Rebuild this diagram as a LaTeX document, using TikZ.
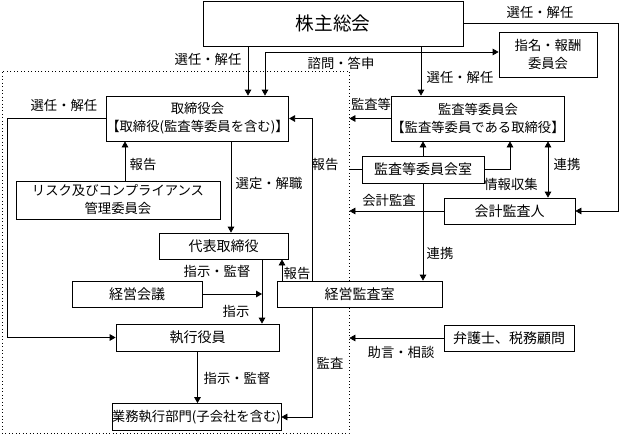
\documentclass[tikz,border=0pt]{standalone}
\usepackage{fontspec}
\setmainfont{Noto Sans CJK JP}
\usetikzlibrary{arrows.meta}

\begin{document}
\begin{tikzpicture}[x=0.75pt,y=0.75pt,yscale=-1,xscale=1,
  box/.style={draw, fill=white, line width=0.6pt, inner sep=0pt, align=center, font=\fontsize{10.5}{13.5}\selectfont},
  lbl/.style={inner sep=0pt, font=\fontsize{10}{12}\selectfont},
  arr/.style={line width=0.6pt, -{Triangle[length=4.5pt,width=5pt]}},
  arrb/.style={line width=0.6pt, {Triangle[length=4.5pt,width=5pt]}-{Triangle[length=4.5pt,width=5pt]}},
  ln/.style={line width=0.6pt}]
\useasboundingbox (0,0) rectangle (622,436);

%Shape: dotted frame
\node [draw, dotted, line width=0.6pt, minimum width=260.25pt, minimum height=271.5pt, inner sep=0pt] (frame) at (175.5,252) {};

%Shape: Boxes
\node [box, minimum width=195pt, minimum height=33.75pt, font=\fontsize{14}{16}\selectfont] (soukai) at (333,23.5) {株主総会};
\node [box, minimum width=73.5pt, minimum height=33.75pt, font=\fontsize{10}{13.5}\selectfont] (shimei) at (548,54.5) {指名・報酬\\委員会};
\node [box, minimum width=126.75pt, minimum height=33.75pt, font=\fontsize{10}{13.5}\selectfont] (board) at (197.5,118.5) {取締役会\\【取締役(監査等委員を含む)】};
\node [box, minimum width=127.5pt, minimum height=33.75pt, font=\fontsize{10}{13.5}\selectfont] (auditcom) at (478,118.5) {監査等委員会\\【監査等委員である取締役】};
\node [box, minimum width=91.5pt, minimum height=20.25pt] (auditoffice) at (423,169.5) {監査等委員会室};
\node [box, minimum width=153pt, minimum height=28.5pt, font=\fontsize{10}{13.5}\selectfont] (risk) at (118,200) {リスク及びコンプライアンス\\管理委員会};
\node [box, minimum width=98.25pt, minimum height=19.5pt] (accountant) at (509.5,211) {会計監査人};
\node [box, minimum width=96.75pt, minimum height=19.5pt] (daihyo) at (223.5,246) {代表取締役};
\node [box, minimum width=97.5pt, minimum height=19.5pt] (keiei) at (137,294) {経営会議};
\node [box, minimum width=123.75pt, minimum height=19.5pt] (kansa) at (359.5,294) {経営監査室};
\node [box, minimum width=122.25pt, minimum height=20.25pt] (shikko) at (197.5,337.5) {執行役員};
\node [box, minimum width=120.75pt, minimum height=20.25pt, font=\fontsize{10}{12}\selectfont] (gyomu) at (196.5,417) {業務執行部門(子会社を含む)};
\node [box, minimum width=97.5pt, minimum height=19.5pt] (bengoshi) at (509,338) {弁護士、税務顧問};

%Straight Lines: connectors
\draw [ln] (frame.east |- auditoffice.west) -- (auditoffice.west);
\draw [arr] (248,0 |- soukai.south) -- (248,0 |- board.north);
\draw [arrb] (shimei.west |- 0,52) -| (265,0 |- board.north);
\draw [arr] (421,0 |- soukai.south) -- (421,0 |- auditcom.north);
\draw [arr] (soukai.east) -| (618,0 |- accountant.east) -- (accountant.east);
\draw [arr] (board.west) -| (7,0 |- shikko.west) -- (shikko.west);
\draw [arr] (auditcom.west) -- (frame.east |- auditcom.west);
\draw [arr] (125,0 |- risk.north) -- (125,0 |- board.south);
\draw [arr] (231,0 |- board.south) -- (231,0 |- daihyo.north);
\draw [arr] (312,0 |- kansa.north) |- (board.east);
\draw [arr] (312,0 |- kansa.south) |- (gyomu.east);
\draw [arr] (auditoffice.north) -- (auditoffice.north |- auditcom.south);
\draw [arr] (auditoffice.south) -- (auditoffice.south |- kansa.north);
\draw [arr] (auditoffice.east) -| (510,0 |- auditcom.south);
\draw [arrb] (548,0 |- auditcom.south) -- (548,0 |- accountant.north);
\draw [arr] (accountant.west) -- (frame.east |- accountant.west);
\draw [arr] (262,0 |- daihyo.south) -- (262,0 |- shikko.north);
\draw [arr] (keiei.east) -- (262,0 |- keiei.east);
\draw [arr] (282,0 |- kansa.north) -- (282,0 |- daihyo.south);
\draw [arr] (shikko.south) -- (shikko.south |- gyomu.north);
\draw [arr] (bengoshi.west) -- (frame.east |- bengoshi.west);

% Text Node
\node [lbl] (lelect1) at (208,59) {選任・解任};
\node [lbl] (lconsult) at (341,63) {諮問・答申};
\node [lbl] (lelect2) at (460,77) {選任・解任};
\node [lbl] (lelect3) at (540,12) {選任・解任};
\node [lbl] (lelect4) at (64,105) {選任・解任};
\node [lbl] (laudit1) at (371,104) {監査等};
\node [lbl] (lreport1) at (143,164) {報告};
\node [lbl] (lselect) at (269,183) {選定・解職};
\node [lbl] (lreport2) at (325,164) {報告};
\node [lbl] (linfo) at (511,184) {情報収集};
\node [lbl] (llink1) at (567,164) {連携};
\node [lbl] (laccount) at (389,200) {会計監査};
\node [lbl] (llink2) at (440,253) {連携};
\node [lbl] (lorder1) at (217,271) {指示・監督};
\node [lbl] (lreport3) at (297,273) {報告};
\node [lbl] (lorder2) at (236,311) {指示};
\node [lbl] (lorder3) at (237,378) {指示・監督};
\node [lbl] (laudit2) at (330,363) {監査};
\node [lbl] (ladvice) at (401,352) {助言・相談};

\end{tikzpicture}
\end{document}
